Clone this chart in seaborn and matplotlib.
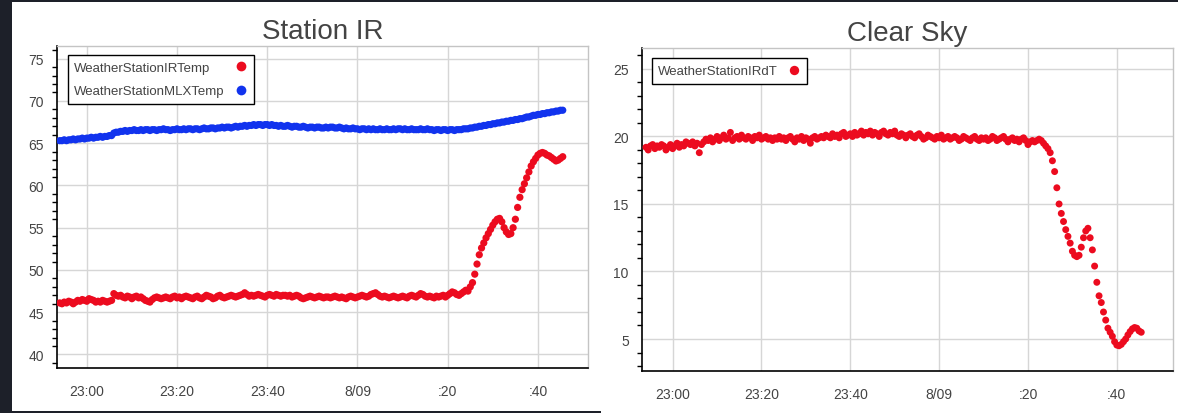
import numpy as np
import pandas as pd
import matplotlib
matplotlib.use("Agg")
import matplotlib.pyplot as plt
import matplotlib.ticker as mticker
from matplotlib.patches import Rectangle
import seaborn as sns

# ---------------- data ----------------
start_time = "2016-08-08 22:54:00"
n_points = 224
sample_freq = "30s"

ir_temp = [
    46.1, 46.0, 46.2, 46.1, 46.3, 46.2, 46.0, 46.2, 46.4, 46.3, 46.5, 46.4, 46.3, 46.6, 46.5, 46.4, 46.2, 46.3, 46.2, 46.4, 46.3, 46.2, 46.3, 46.4,
    47.2, 47.0, 46.9, 47.0, 46.8, 46.7, 46.9, 46.8, 46.6, 46.8, 46.9, 46.7, 46.8, 46.6, 46.4, 46.3,
    46.2, 46.5, 46.7, 46.8, 46.7, 46.6, 46.7, 46.8, 46.7, 46.6, 46.8, 46.9, 46.7, 46.8, 46.6, 46.8, 46.9, 46.8, 46.7, 46.6,
    46.8, 46.9, 46.7, 46.6, 46.8, 47.0, 46.9, 46.8, 46.6, 46.7, 46.9, 47.0, 46.8, 46.7, 46.8, 46.9, 47.0, 46.9, 46.8, 46.9,
    47.0, 47.1, 47.3, 47.1, 46.9, 47.0, 46.9, 47.0, 47.1, 47.0, 46.9, 46.8, 47.0, 47.1, 47.0, 46.9, 47.1, 47.0, 46.9, 47.0,
    47.0, 46.9, 47.0, 46.8, 46.9, 47.0, 46.9, 46.7, 46.6, 46.7, 46.8, 46.9, 46.8, 46.7, 46.8, 46.9, 46.8, 46.7, 46.8, 46.8,
    46.7, 46.8, 46.9, 46.8, 46.7, 46.8, 46.7, 46.6, 46.8, 46.9, 46.8, 46.7, 46.8, 46.9, 47.0, 46.9, 46.8, 46.9, 47.1, 47.2,
    47.3, 47.1, 46.9, 46.8, 46.9, 46.8, 46.7, 46.8, 46.9, 46.8, 46.7, 46.8, 46.9, 46.8, 46.7, 46.9, 47.0, 46.9, 46.8, 47.0,
    47.2, 47.1, 46.9, 46.8, 46.9, 46.8, 46.7, 46.9, 46.8, 46.9, 47.0, 46.8, 47.0, 47.2, 47.4, 47.3, 47.1, 47.0,
    47.2, 47.4, 47.6, 47.5, 48.0, 48.5, 49.5, 50.7, 51.8, 52.6, 53.2, 53.8, 54.3, 54.8, 55.3, 55.7, 56.0, 56.1, 55.7, 55.0,
    54.5, 54.2, 54.3, 55.0, 56.0, 57.4, 58.6, 59.5, 60.2, 60.9, 61.6, 62.3, 62.8, 63.2, 63.6, 63.8, 63.9, 63.8, 63.6, 63.5,
    63.3, 63.1, 62.9, 63.0, 63.2, 63.4,
]

mlx_temp = [
    65.3, 65.3, 65.4, 65.3, 65.4, 65.4, 65.5, 65.4, 65.5, 65.5, 65.6, 65.5, 65.6, 65.6, 65.7, 65.6, 65.7, 65.7, 65.8, 65.7, 65.8, 65.8, 65.9, 65.9,
    66.2, 66.3, 66.3, 66.4, 66.4, 66.5, 66.4, 66.5, 66.5, 66.6, 66.5, 66.5, 66.6, 66.5, 66.6, 66.6,
    66.5, 66.6, 66.6, 66.5, 66.6, 66.6, 66.7, 66.6, 66.6, 66.5, 66.6, 66.6, 66.7, 66.6, 66.6, 66.7, 66.6, 66.7, 66.7, 66.6,
    66.7, 66.7, 66.6, 66.7, 66.8, 66.7, 66.7, 66.8, 66.8, 66.7, 66.8, 66.8, 66.9, 66.8, 66.9, 66.9, 66.8, 66.9, 67.0, 66.9,
    67.0, 67.0, 67.1, 67.0, 67.1, 67.1, 67.2, 67.1, 67.2, 67.2, 67.1, 67.2, 67.2, 67.1, 67.2, 67.1, 67.1, 67.0, 67.1, 67.0,
    67.0, 67.1, 67.0, 66.9, 67.0, 67.0, 66.9, 66.9, 67.0, 66.9, 66.8, 66.9, 66.9, 66.8, 66.9, 66.9, 66.8, 66.8, 66.9, 66.8,
    66.9, 66.9, 66.8, 66.8, 66.9, 66.8, 66.7, 66.8, 66.7, 66.7, 66.8, 66.7, 66.7, 66.6, 66.7, 66.7, 66.6, 66.7, 66.6, 66.7,
    66.6, 66.6, 66.7, 66.6, 66.6, 66.7, 66.6, 66.6, 66.7, 66.6, 66.7, 66.7, 66.6, 66.7, 66.6, 66.6, 66.7, 66.6, 66.6, 66.6,
    66.7, 66.6, 66.6, 66.7, 66.6, 66.6, 66.5, 66.6, 66.6, 66.5, 66.6, 66.6, 66.5, 66.6, 66.6, 66.5, 66.6, 66.6, 66.6, 66.7,
    66.7, 66.7, 66.8, 66.8, 66.9, 66.9, 67.0, 67.0, 67.1, 67.1, 67.2, 67.2, 67.3, 67.3, 67.4, 67.4, 67.5, 67.5, 67.6, 67.6,
    67.7, 67.7, 67.8, 67.8, 67.9, 67.9, 68.0, 68.1, 68.1, 68.2, 68.3, 68.3, 68.4, 68.4, 68.5, 68.5, 68.6, 68.6, 68.7, 68.7,
    68.8, 68.8, 68.9, 68.9,
]

ir_dt = [
    19.2, 19.0, 19.3, 19.4, 19.1, 19.3, 19.2, 19.4, 19.3, 19.0, 19.2, 19.4, 19.1, 19.3, 19.5, 19.2, 19.4, 19.3, 19.6, 19.5, 19.4, 19.6, 19.3, 19.5,
    18.8, 19.4, 19.6, 19.8, 19.7, 19.9, 19.6, 19.8, 20.0, 19.7, 19.9, 20.1, 19.8, 19.9, 20.3, 19.7,
    19.9, 20.0, 19.8, 20.1, 19.9, 19.8, 20.0, 19.9, 19.7, 20.0, 19.9, 20.1, 19.8, 19.9, 20.0, 19.8, 19.9, 19.7, 19.9, 19.8,
    20.0, 19.8, 19.9, 19.7, 19.9, 20.0, 19.8, 19.6, 19.9, 19.8, 20.0, 19.7, 19.9, 19.8, 19.5, 19.9, 20.0, 19.8, 19.9, 20.0,
    19.9, 20.1, 20.0, 19.9, 20.2, 20.0, 20.1, 19.9, 20.2, 20.3, 20.0, 20.1, 20.2, 20.0, 20.3, 20.1, 20.2, 20.4, 20.1, 20.3,
    20.2, 20.4, 20.1, 20.3, 20.2, 20.0, 20.3, 20.4, 20.2, 20.1, 20.3, 20.2, 20.4, 20.1, 20.0, 20.2, 20.1, 19.9, 20.1, 20.2,
    20.0, 19.9, 20.1, 20.2, 20.0, 19.8, 19.9, 20.1, 20.0, 19.9, 19.8, 20.0, 19.9, 20.1, 19.8, 19.9, 20.0, 19.8, 19.9, 20.0,
    19.9, 19.7, 19.8, 20.0, 19.9, 19.8, 19.7, 19.9, 20.0, 19.8, 19.7, 19.9, 19.8, 19.9, 19.7, 19.8, 20.0, 19.9, 19.7, 19.8,
    19.9, 20.0, 19.8, 19.6, 19.8, 19.9, 19.7, 19.8, 19.6, 19.8, 19.9, 19.7, 19.4, 19.6, 19.7, 19.6, 19.7, 19.8, 19.7, 19.5,
    19.3, 19.1, 18.8, 18.2, 17.4, 16.2, 15.0, 14.3, 13.7, 13.1, 12.6, 12.1, 11.5, 11.2, 11.1, 11.2, 11.8, 12.5, 13.0, 13.2,
    12.5, 11.6, 10.4, 9.2, 8.2, 7.7, 7.0, 6.4, 5.8, 5.5, 5.2, 4.8, 4.55, 4.5, 4.6, 4.8, 5.0, 5.3, 5.55, 5.75,
    5.85, 5.8, 5.6, 5.5,
]

xtick_times = ["2016-08-08 23:00", "2016-08-08 23:20", "2016-08-08 23:40",
               "2016-08-09 00:00", "2016-08-09 00:20", "2016-08-09 00:40"]
xtick_labels = ["23:00", "23:20", "23:40", "8/09", ":20", ":40"]

titles = ["Station IR", "Clear Sky"]
series_left = ["WeatherStationIRTemp", "WeatherStationMLXTemp"]
series_right = ["WeatherStationIRdT"]

# ---------------- styling ----------------
RED = "#ec0b1f"
BLUE = "#1133ee"
BG = "#1d2029"
TXT = "#444444"
GRID = "#d6d6d6"

sns.set_style("white")
plt.rcParams["font.family"] = ["Liberation Sans", "DejaVu Sans"]

W, H = 1178, 414
DPI = 100
fig = plt.figure(figsize=(W / DPI, H / DPI), dpi=DPI, facecolor=BG)

def px_rect(x0, y0, x1, y1):
    return Rectangle((x0 / W, 1 - y1 / H), (x1 - x0) / W, (y1 - y0) / H,
                     transform=fig.transFigure, facecolor="white",
                     edgecolor="none", zorder=-5)

fig.add_artist(px_rect(12, 3.3, 600.5, 411.7))
fig.add_artist(px_rect(600.5, 3.3, 1178, 414))

def px_axes(x0, y0, x1, y1):
    return fig.add_axes([x0 / W, 1 - y1 / H, (x1 - x0) / W, (y1 - y0) / H])

ax1 = px_axes(57, 47, 588, 369)
ax2 = px_axes(642, 49.3, 1173, 372)

times = pd.date_range(start_time, periods=n_points, freq=sample_freq)
df_left = pd.DataFrame({"time": list(times) * 2,
                        "value": ir_temp + mlx_temp,
                        "series": [series_left[0]] * n_points + [series_left[1]] * n_points})
df_right = pd.DataFrame({"time": times, "value": ir_dt,
                         "series": [series_right[0]] * n_points})

sns.scatterplot(data=df_left, x="time", y="value", hue="series",
                palette={series_left[0]: RED, series_left[1]: BLUE},
                s=27, linewidth=0, ax=ax1, zorder=3)
sns.scatterplot(data=df_right, x="time", y="value", hue="series",
                palette={series_right[0]: RED},
                s=25, linewidth=0, ax=ax2, zorder=3)

tick_pos = pd.to_datetime(xtick_times)
base = pd.Timestamp("2016-08-08 23:00")
LEG_FS = 9.5
LEG_PAD = 0.7

def style(ax, title, xlim_min, ylim, legend_anchor):
    ax.set_facecolor("white")
    ax.set_xlim(base + pd.Timedelta(minutes=xlim_min[0]),
                base + pd.Timedelta(minutes=xlim_min[1]))
    ax.set_ylim(*ylim)
    ax.set_xticks(tick_pos)
    ax.set_xticklabels(xtick_labels)
    ax.yaxis.set_major_locator(mticker.MultipleLocator(5))
    ax.yaxis.set_minor_locator(mticker.MultipleLocator(1))
    ax.yaxis.set_major_formatter(mticker.FormatStrFormatter("%d"))
    ax.set_xlabel("")
    ax.set_ylabel("")
    ax.grid(True, which="major", color=GRID, linewidth=1.0)
    ax.set_axisbelow(True)
    for s in ("top", "right"):
        ax.spines[s].set_visible(True)
        ax.spines[s].set_color("#c4c4c4")
        ax.spines[s].set_linewidth(1.0)
    for s in ("left", "bottom"):
        ax.spines[s].set_color("black")
        ax.spines[s].set_linewidth(1.2)
    ax.tick_params(axis="both", which="major", direction="out", length=5.5,
                   width=1.1, color="black", labelsize=10, labelcolor=TXT, pad=4)
    ax.tick_params(axis="x", which="major", pad=6)
    ax.tick_params(axis="y", which="minor", direction="out", length=3.5,
                   width=1.0, color="black", left=True)
    ax.tick_params(axis="x", which="minor", bottom=False)
    ax.set_title(title, fontsize=20, color=TXT, pad=6)
    leg = ax.legend(loc="upper left", bbox_to_anchor=legend_anchor,
                    borderaxespad=0, markerfirst=False, frameon=True,
                    fancybox=False, edgecolor="black", framealpha=1,
                    fontsize=LEG_FS, handlelength=1.0, handletextpad=LEG_PAD,
                    borderpad=0.5, labelspacing=0.85, markerscale=1.35,
                    title=None)
    leg.get_frame().set_linewidth(1.0)
    for t in leg.get_texts():
        t.set_color(TXT)
    return leg

leg1 = style(ax1, titles[0], (-6.6, 111.1), (38.4, 76.5), (0.020, 0.972))
leg2 = style(ax2, titles[1], (-6.9, 112.65), (2.63, 26.53), (0.0183, 0.969))

# left-align legend labels while keeping the markers in one column
fig.canvas.draw()
renderer = fig.canvas.get_renderer()
for leg in (leg1, leg2):
    widths = [t.get_window_extent(renderer).width for t in leg.get_texts()]
    maxw = max(widths)
    for col in leg._legend_handle_box.get_children():
        col.align = "left"
        for row, w in zip(col.get_children(), widths):
            row.sep = LEG_PAD * LEG_FS + (maxw - w) * 72.0 / DPI

fig.savefig("out.png", dpi=DPI, facecolor=BG)
